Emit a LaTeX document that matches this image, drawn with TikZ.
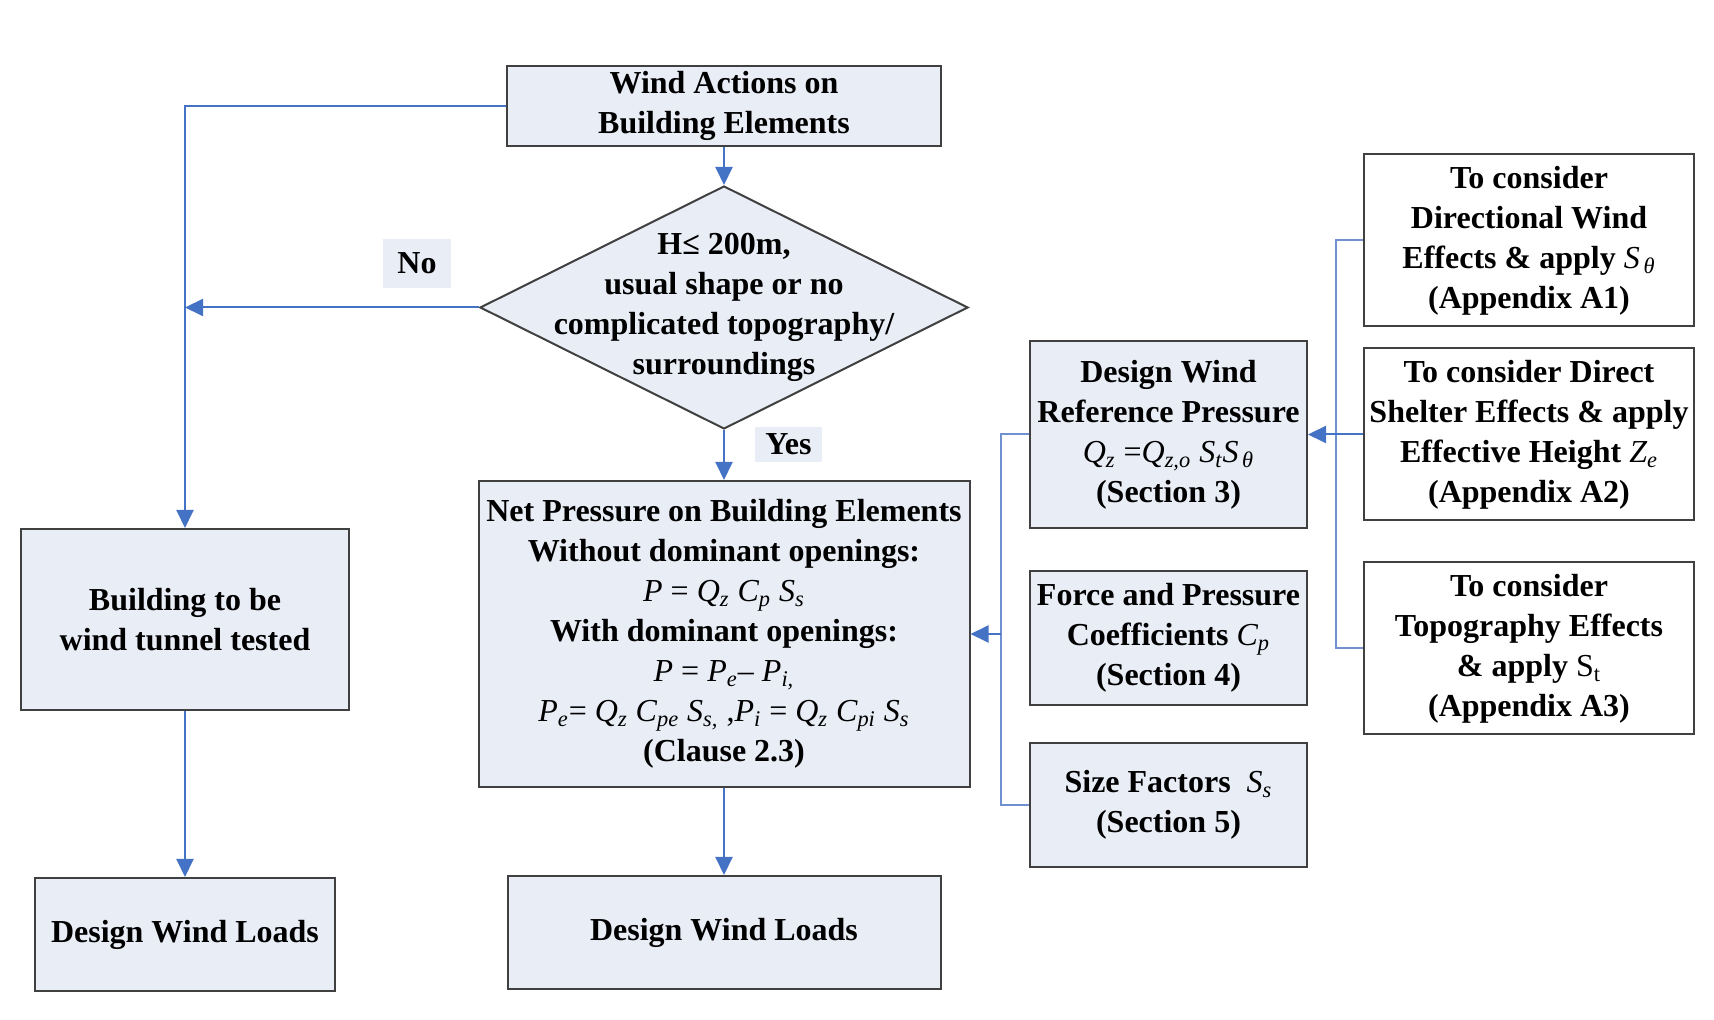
\documentclass[tikz,border=0pt]{standalone}
\usepackage{fontspec}
\setmainfont{Liberation Serif}
\usetikzlibrary{shapes.geometric}
\usetikzlibrary{positioning}
\usetikzlibrary{arrows.meta}
\definecolor{boxfill}{RGB}{233,237,246}
\definecolor{boxline}{RGB}{64,64,64}
\definecolor{flowblue}{RGB}{68,114,196}
\definecolor{feedblue}{RGB}{112,144,208}
\newcommand{\sym}[2]{\textnormal{\itshape #1\textsubscript{#2}}}
\tikzset{
    node distance=20pt,
    every node/.append style={
        font=\fontsize{16}{20}\selectfont\bfseries,
        align=center
    },
    block/.style={
        draw=boxline,
        line width=1pt,
        fill=boxfill,
        inner sep=2pt
    },
    refbox/.style={
        block,
        fill=white,
        minimum width=165pt,
        minimum height=86pt
    },
    sidebox/.style={
        block,
        minimum width=138.5pt
    },
    decision/.style={
        diamond,
        draw=boxline,
        line width=1pt,
        fill=boxfill,
        minimum width=244pt,
        minimum height=121.5pt,
        inner sep=0pt
    },
    tag/.style={
        fill=boxfill,
        inner sep=0pt
    },
    flow/.style={
        draw=flowblue,
        line width=1pt,
        ->,>={Triangle[length=9pt,width=8.5pt]}
    },
    feed/.style={
        draw=feedblue,
        line width=1pt
    }
}

\begin{document}
\begin{tikzpicture}[x=0.5pt,y=-0.5pt]
                \useasboundingbox (0,0) rectangle (1714,1020);

                \node[block, minimum width=217pt, minimum height=40pt] (wind) at (724,106) {Wind Actions on\\Building Elements};
                \node[decision, below=19pt of wind] (dec) {};
                \node (dectext) at (dec) {H≤ 200m,\\usual shape or no\\complicated topography/\\surroundings};
                \node[block, minimum width=245.5pt, minimum height=153pt, below=25pt of dec] (net) {Net Pressure on Building Elements\\Without dominant openings:\\\textnormal{\textit{P} = \sym{Q}{z} \sym{C}{p} \sym{S}{s}}\\With dominant openings:\\\textnormal{\textit{P} = \sym{P}{e}– \sym{P}{i,}}\\\textnormal{\sym{P}{e}= \sym{Q}{z} \sym{C}{pe} \sym{S}{s,} ,\sym{P}{i} = \sym{Q}{z} \sym{C}{pi} \sym{S}{s}}\\(Clause 2.3)};
                \node[block, minimum width=216.5pt, minimum height=56.5pt, below=43.5pt of net] (dwl2) {Design Wind Loads};

                \node[block, minimum width=164pt, minimum height=90.5pt] (bld) at (185,619.5) {Building to be\\wind tunnel tested};
                \node[block, minimum width=150pt, minimum height=56.5pt, below=83pt of bld] (dwl1) {Design Wind Loads};

                \node[tag, minimum width=34pt, minimum height=24.5pt] (no) at (417,263.5) {No};
                \node[tag, minimum width=33.5pt, minimum height=17.5pt] (yes) at (788.5,444.5) {Yes};

                \node[sidebox, minimum height=93.5pt] (dwr) at (1168.5,434.5) {Design Wind\\Reference Pressure\\\textnormal{\sym{Q}{z} =\sym{Q}{z,o} \sym{S}{t}\sym{S}{\,θ}}\\(Section 3)};
                \node[sidebox, minimum height=67pt, below=20.5pt of dwr] (force) {Force and Pressure\\Coefficients \sym{C}{p}\\(Section 4)};
                \node[sidebox, minimum height=62pt, below=18pt of force] (size) {Size Factors\ \ \sym{S}{s}\\(Section 5)};

                \node[refbox, right=27.5pt of dwr] (a2) {To consider Direct\\Shelter Effects \& apply\\Effective Height \sym{Z}{e}\\(Appendix A2)};
                \node[refbox, above=10pt of a2] (a1) {To consider\\Directional Wind\\Effects \& apply \sym{S}{\,θ}\\(Appendix A1)};
                \node[refbox, below=20pt of a2] (a3) {To consider\\Topography Effects\\\& apply \textnormal{S\textsubscript{t}}\\(Appendix A3)};

                \coordinate (nojoin) at (bld.north |- dec.west);
                \coordinate (rbar) at ([xshift=14pt]dwr.east);
                \coordinate (lbar) at ([xshift=-14pt]dwr.west);

                \draw[flow] (wind) -- (dec);
                \draw[flow] (dec) -- (net);
                \draw[flow] (net) -- (dwl2);
                \draw[flow] (wind.west) -| (bld.north);
                \draw[flow] (dec.west) -- (nojoin);
                \draw[flow] (bld) -- (dwl1);

                \draw[feed] (a1.west) -- (a1.west -| rbar) -- (a3.west -| rbar) -- (a3.west);
                \draw[flow] (a2.west) -- (dwr.east);
                \draw[feed] (dwr.west) -- (lbar) -- (lbar |- size.west) -- (size.west);
                \draw[flow] (lbar |- net.east) -- (net.east);
            \end{tikzpicture}
\end{document}
